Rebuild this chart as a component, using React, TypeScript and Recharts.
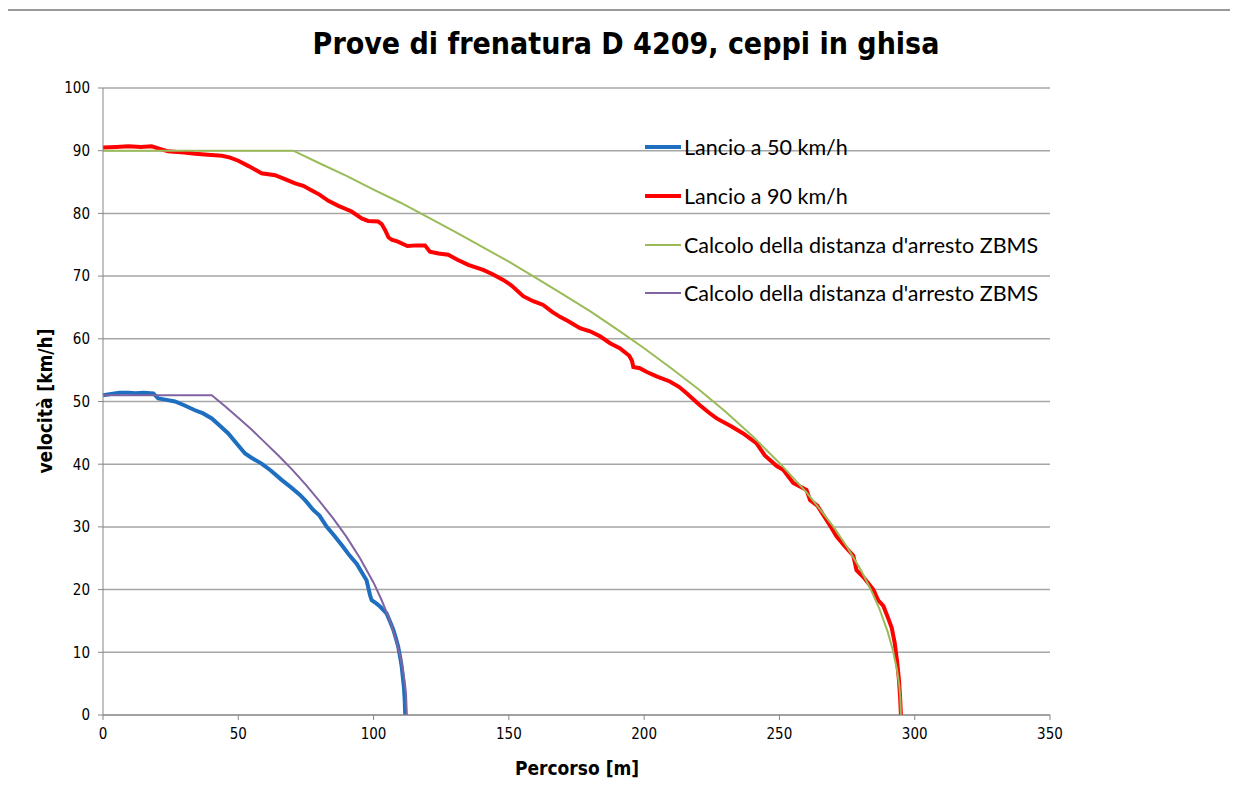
import React from "react";
import {
  LineChart,
  Line,
  XAxis,
  YAxis,
  CartesianGrid,
} from "recharts";

// distance [m] / speed [km/h] readings
const run50Dist = [0, 3, 6, 9.4, 12, 15, 18.6, 20.4, 23, 26.6, 30, 34, 37, 40.2, 43, 46.3, 49, 52.5, 55, 58.6, 62, 66, 69.5, 72.8, 75, 77.7, 80, 82.7, 85.5, 88.8, 91, 93.8, 96, 97.4, 98.7, 99.3, 101, 102.4, 104.8, 106, 107.3, 108.2, 109.1, 110, 110.4, 111.2, 111.5, 111.7];
const run50Speed = [51.0, 51.2, 51.4, 51.4, 51.3, 51.4, 51.3, 50.5, 50.3, 50.0, 49.4, 48.6, 48.1, 47.3, 46.2, 44.9, 43.5, 41.7, 41.0, 40.1, 39.0, 37.5, 36.3, 35.1, 34.1, 32.7, 31.8, 30.0, 28.6, 26.8, 25.5, 24.1, 22.5, 21.5, 19.1, 18.3, 17.8, 17.3, 16.2, 15.0, 13.6, 12.3, 10.9, 8.8, 7.7, 4.5, 2.5, 0];

const run90Dist = [0, 5, 9.4, 14, 18, 21, 24, 30, 34, 40, 44, 47, 50, 54, 58.6, 63.6, 67, 71, 74, 77, 80, 83.3, 87, 91.9, 95.6, 98, 101.7, 103, 104.2, 105.5, 106.7, 109, 112.5, 116, 119, 120.8, 124, 127.6, 131, 135, 140.5, 144, 147.9, 151, 155.3, 159, 162.7, 166, 168.9, 172, 176.3, 180, 183.7, 187.4, 191, 194.5, 195.5, 196, 198.4, 201, 204.6, 209.5, 213, 215.7, 220.6, 224, 226.8, 232.3, 236.6, 241.6, 244.6, 249, 251.4, 255.1, 260, 261.3, 264, 266.2, 269.3, 271.1, 274, 277.3, 278.5, 281, 284.7, 286.5, 288.4, 290.3, 291.5, 292.6, 293.5, 294.2, 294.6, 294.9];
const run90Speed = [90.5, 90.6, 90.7, 90.6, 90.7, 90.3, 89.9, 89.7, 89.5, 89.3, 89.2, 88.9, 88.4, 87.5, 86.4, 86.1, 85.5, 84.8, 84.4, 83.7, 83.0, 82.0, 81.2, 80.3, 79.2, 78.8, 78.7, 78.3, 77.4, 76.2, 75.8, 75.5, 74.8, 74.9, 74.9, 73.9, 73.6, 73.4, 72.6, 71.8, 71.0, 70.3, 69.4, 68.5, 66.8, 66.0, 65.4, 64.3, 63.5, 62.8, 61.7, 61.2, 60.4, 59.3, 58.5, 57.3, 56.5, 55.5, 55.3, 54.7, 54.0, 53.2, 52.3, 51.3, 49.4, 48.2, 47.3, 46.0, 44.9, 43.3, 41.4, 39.7, 39.1, 37.0, 35.9, 34.3, 33.4, 31.9, 29.8, 28.5, 27.0, 25.4, 23.1, 22.0, 20.0, 18.3, 17.4, 15.3, 13.9, 11.5, 8.5, 5.5, 2.8, 0];

const calc90Dist = [0, 70.3, 80, 90, 100, 110, 120, 130, 140, 150, 160, 170, 180, 190, 200, 210, 220, 230, 240, 250, 260, 265, 270, 275, 280, 284, 287, 290, 292, 293.5, 294.3, 294.7, 294.9];
const calc90Speed = [90, 90, 88.0, 86.0, 83.8, 81.7, 79.4, 77.1, 74.7, 72.3, 69.7, 67.1, 64.4, 61.5, 58.5, 55.3, 52.0, 48.4, 44.5, 40.2, 35.5, 32.8, 30.0, 26.8, 23.2, 19.8, 16.9, 13.3, 10.2, 7.1, 4.7, 2.7, 0];

const calc50Dist = [0, 40.2, 45, 50, 55, 60, 65, 70, 75, 80, 85, 90, 95, 100, 103, 106, 108, 110, 111, 111.7, 112, 112.3];
const calc50Speed = [51, 51, 49.3, 47.4, 45.5, 43.4, 41.3, 39.1, 36.7, 34.1, 31.4, 28.4, 25.0, 21.1, 18.3, 15.1, 12.4, 9.1, 6.8, 4.6, 3.3, 0];

const xTicks = [0, 50, 100, 150, 200, 250, 300, 350];
const yTicks = [0, 10, 20, 30, 40, 50, 60, 70, 80, 90, 100];

const toPoints = (d: number[], v: number[]) => d.map((s, i) => ({ s, v: v[i] }));

const series = [
  { name: "Lancio a 50 km/h", data: toPoints(run50Dist, run50Speed), color: "#1F6FC0", width: 4 },
  { name: "Lancio a 90 km/h", data: toPoints(run90Dist, run90Speed), color: "#FF0000", width: 4 },
  { name: "Calcolo della distanza d'arresto ZBMS", data: toPoints(calc90Dist, calc90Speed), color: "#9BBB59", width: 2 },
  { name: "Calcolo della distanza d'arresto ZBMS", data: toPoints(calc50Dist, calc50Speed), color: "#8064A2", width: 2 },
];

const narrow = "'DejaVu Sans Condensed', 'DejaVu Sans', sans-serif";

export default function App() {
  return (
    <div style={{ position: "relative", width: 1230, height: 785 }}>
      <div
        style={{
          position: "absolute",
          left: 0,
          top: 18,
          width: 1236,
          textAlign: "center",
          fontFamily: narrow,
          fontWeight: "bold",
          fontSize: 30,
        }}
      >
        Prove di frenatura D 4209, ceppi in ghisa
      </div>
      <div
        style={{
          position: "absolute",
          left: 37,
          top: 393,
          transform: "translate(-50%, -50%) rotate(-90deg)",
          fontFamily: narrow,
          fontWeight: "bold",
          fontSize: 19,
          whiteSpace: "nowrap",
        }}
      >
        velocità [km/h]
      </div>
      <div
        style={{
          position: "absolute",
          left: 569,
          top: 760,
          transform: "translate(-50%, -50%)",
          fontFamily: narrow,
          fontWeight: "bold",
          fontSize: 19,
          whiteSpace: "nowrap",
        }}
      >
        Percorso [m]
      </div>
      <LineChart
        width={1230}
        height={785}
        margin={{ top: 80, right: 188, left: 0, bottom: 0 }}
        style={{ position: "absolute", left: 0, top: 0 }}
      >
        <CartesianGrid vertical={false} stroke="#a6a6a6" strokeWidth={1.5} />
        <XAxis
          type="number"
          dataKey="s"
          domain={[0, 350]}
          ticks={xTicks}
          height={78}
          tickSize={5}
          tickMargin={8}
          stroke="#868686"
          tick={{ fill: "#000", fontSize: 15, fontFamily: narrow }}
        />
        <YAxis
          type="number"
          dataKey="v"
          domain={[0, 100]}
          ticks={yTicks}
          width={95}
          tickSize={5}
          tickMargin={8}
          stroke="#868686"
          tick={{ fill: "#000", fontSize: 15, fontFamily: narrow }}
        />
        {series.map((s, i) => (
          <Line
            key={i}
            data={s.data}
            dataKey="v"
            name={s.name}
            type="linear"
            stroke={s.color}
            strokeWidth={s.width}
            dot={false}
            isAnimationActive={false}
          />
        ))}
      </LineChart>
      <div
        style={{
          position: "absolute",
          left: 637,
          top: 115,
          fontFamily: "Lato, 'Open Sans', sans-serif",
          fontSize: 21.5,
        }}
      >
        {series.map((s, i) => (
          <div key={i} style={{ display: "flex", alignItems: "center", height: 48.7 }}>
            <div style={{ width: 36, height: s.width, background: s.color, marginRight: 3 }} />
            <span style={{ color: "#000" }}>{s.name}</span>
          </div>
        ))}
      </div>
      <div style={{ position: "absolute", left: -4, top: 1, width: 1240, height: 2, background: "#999", zIndex: 2 }} />
      <div style={{ position: "absolute", left: -4, top: 1, width: 2, height: 790, background: "#999", zIndex: 2 }} />
    </div>
  );
}
